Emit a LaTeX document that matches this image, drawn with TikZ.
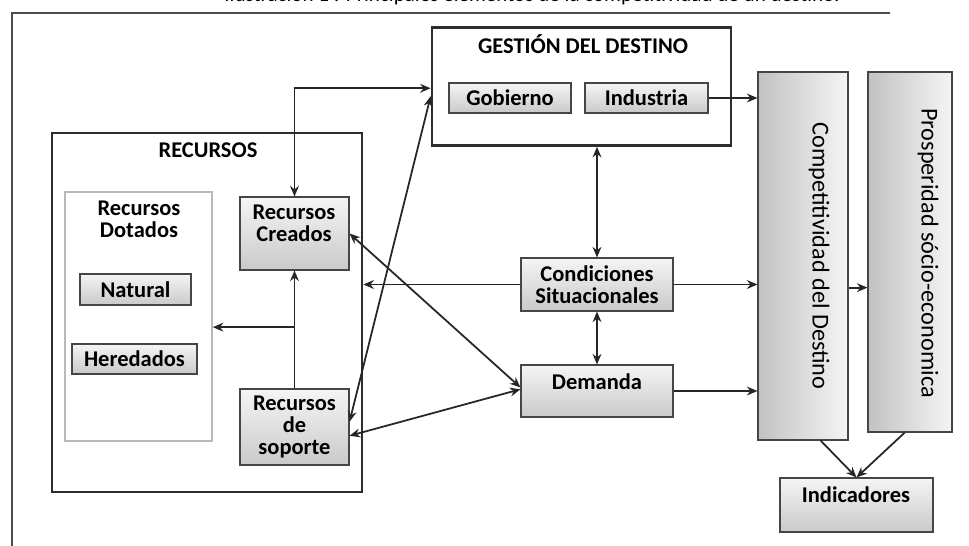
\documentclass[tikz,border=0pt]{standalone}
\usepackage{fontspec}
\setmainfont{Carlito}
\usetikzlibrary{arrows.meta,positioning,calc}

\tikzset{
  caja/.style={draw=gray!55!black, line width=0.6pt, top color=gray!8, bottom color=gray!42,
    font=\bfseries\fontsize{12.8}{12.4}\selectfont, align=center, inner sep=0pt},
  columna/.style={draw=gray!55!black, line width=0.6pt, left color=gray!48, right color=gray!8, inner sep=0pt},
  marco/.style={draw=gray!35!black, line width=1.5pt, inner sep=0pt},
  subgrupo/.style={draw=gray!55, line width=0.9pt, inner sep=0pt},
  rotulo/.style={font=\bfseries\fontsize{12.8}{12.4}\selectfont, align=center, inner sep=0pt},
  vertical/.style={rotate=-90, font=\fontsize{13.8}{14}\selectfont, inner sep=0pt},
  flecha/.style={-{Stealth[length=6pt,width=5pt]}, line width=1pt, draw=black!85},
  doble/.style={{Stealth[length=6pt,width=5pt]}-{Stealth[length=6pt,width=5pt]}, line width=1pt, draw=black!85},
}

\begin{document}
\begin{tikzpicture}[x=0.2mm, y=-0.2mm]
  \useasboundingbox (0,0) rectangle (969,546);
  \fill[white] (0,0) rectangle (969,546);

  % marco y titulo
  \node[anchor=base, font=\fontsize{12}{12}\selectfont] (ilus) at (532,1.5)
    {Ilustración 1 : Principales elementos de la competitividad de un destino.};
  \draw[draw=gray!60!black, line width=0.9pt] (890,13) -| (12,546);

  % bloques grandes
  \node[marco, minimum width=59.8mm, minimum height=23.6mm] (gestion) at (581.5,86.5) {};
  \node[rotulo] (tgestion) at (583,44) {GESTIÓN DEL DESTINO};
  \node[marco, minimum width=62mm, minimum height=71.8mm] (recursos) at (207,312.5) {};
  \node[rotulo] (trecursos) at (208,150) {RECURSOS};
  \node[subgrupo, minimum width=29.4mm, minimum height=49.8mm] (dotados) at (138.5,316.5) {};
  \node[rotulo] (tdotados) at (139,219) {Recursos\\Dotados};

  % cajas
  \node[caja, minimum width=24.4mm, minimum height=6mm] (gobierno) at (510,98) {Gobierno};
  \node[caja, minimum width=24.6mm, minimum height=6mm] (industria) at (646.5,98) {Industria};
  \node[caja, minimum width=22.2mm, minimum height=6.2mm] (natural) at (135.5,289.5) {Natural};
  \node[caja, minimum width=25mm, minimum height=6mm] (heredados) at (134.5,359) {Heredados};
  \node[caja, minimum width=21.8mm, minimum height=14.6mm] (creados) at (294.5,233.5) {};
  \node[rotulo] (tcreados) at (294,223) {Recursos\\Creados};
  \node[caja, minimum width=21.8mm, minimum height=15.2mm] (soporte) at (294.5,427) {Recursos\\de\\soporte};
  \node[caja, minimum width=30.4mm, minimum height=10.6mm] (cond) at (597,284.5) {Condiciones\\Situacionales};
  \node[caja, minimum width=30.4mm, minimum height=10.4mm] (demanda) at (597,391) {};
  \node[rotulo] (tdemanda) at (597,382) {Demanda};
  \node[caja, minimum width=30.6mm, minimum height=10.8mm] (indic) at (856.5,505) {};
  \node[rotulo] (tindic) at (856,495) {Indicadores};

  % columnas
  \node[columna, minimum width=18mm, minimum height=73.6mm] (compet) at (803,256) {};
  \node[vertical] (tcompet) at (819,256) {Competitividad del Destino};
  \node[columna, minimum width=16.8mm, minimum height=72mm] (prosp) at (910,252) {};
  \node[vertical] (tprosp) at (928,253) {Prosperidad sócio-economica};

  % conexiones
  \draw[flecha] (industria.east) -- (industria.east -| compet.west);
  \draw[doble] (cond.north |- gestion.south) -- (cond.north);
  \draw[doble] (cond.south) -- (demanda.north);
  \draw[flecha] (cond.west) -- (cond.west -| recursos.east);
  \draw[flecha] (cond.east) -- (cond.east -| compet.west);
  \draw[flecha] (demanda.east) -- (demanda.east -| compet.west);
  \draw[flecha] ([yshift=-18pt]compet.east) -- ([yshift=-18pt]compet.east -| prosp.west);
  \draw[flecha] ([xshift=10pt]compet.south) -- (indic.north);
  \draw[flecha] ([xshift=-3pt]prosp.south) -- (indic.north);
  \draw[doble] (creados.north) |- ([yshift=-1pt]gestion.west);
  \draw[doble] ([yshift=3pt]soporte.east) -- ([yshift=-5.5pt]gestion.west);
  \draw[doble] (creados.east) -- ([yshift=2pt]demanda.west);
  \draw[doble] ([yshift=-5pt]soporte.east) -- ([yshift=1pt]demanda.west);
  \draw[flecha] (soporte.north) -- (creados.south);
  \coordinate (rama) at ($(creados.south)!0.48!(soporte.north)$);
  \draw[flecha] (rama) -- (rama -| dotados.east);
\end{tikzpicture}
\end{document}
